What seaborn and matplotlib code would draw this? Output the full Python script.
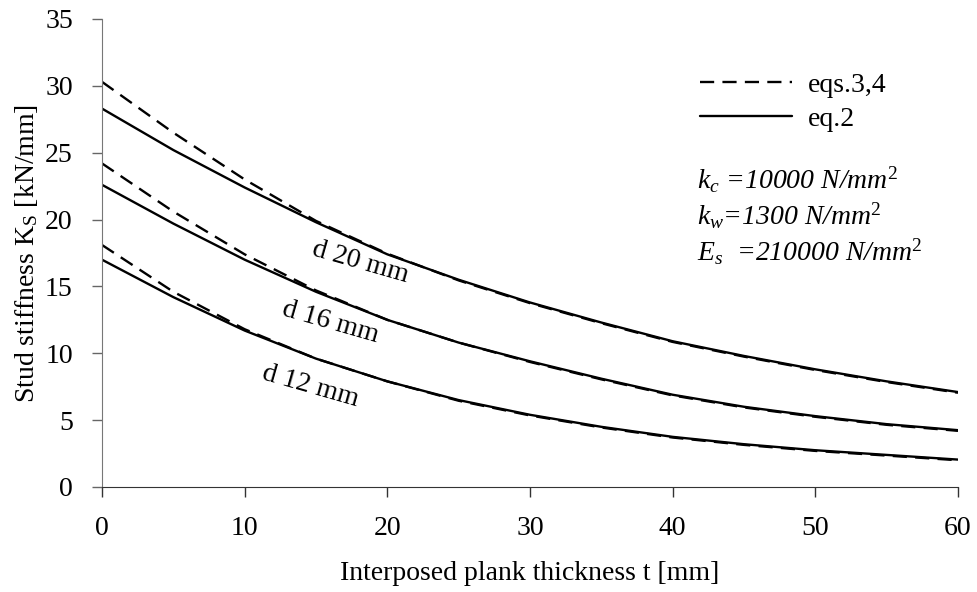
import numpy as np
import pandas as pd
import matplotlib
matplotlib.use("Agg")
import matplotlib.pyplot as plt
from matplotlib.lines import Line2D
import seaborn as sns

# plank thickness t [mm]
thickness = [0, 5, 10, 15, 20, 25, 30, 35, 40, 45, 50, 55, 60]

# stud stiffness Ks [kN/mm]
d20_eq2 = [28.3, 25.2, 22.4, 19.8, 17.4, 15.5, 13.8, 12.3, 10.9, 9.8, 8.8, 7.9, 7.1]
d20_eq34 = [30.3, 26.5, 23.0, 19.9, 17.45, 15.45, 13.75, 12.25, 10.85, 9.75, 8.75, 7.85, 7.05]
d16_eq2 = [22.6, 19.7, 17.0, 14.6, 12.5, 10.8, 9.4, 8.1, 6.9, 6.0, 5.3, 4.7, 4.25]
d16_eq34 = [24.2, 20.6, 17.4, 14.7, 12.5, 10.8, 9.35, 8.05, 6.85, 5.95, 5.25, 4.65, 4.2]
d12_eq2 = [17.0, 14.2, 11.7, 9.6, 7.9, 6.5, 5.4, 4.5, 3.75, 3.2, 2.75, 2.4, 2.05]
d12_eq34 = [18.1, 14.6, 11.8, 9.6, 7.9, 6.45, 5.35, 4.45, 3.7, 3.15, 2.7, 2.35, 2.0]

series = {
    ("d 20 mm", "eq.2"): d20_eq2,
    ("d 20 mm", "eqs.3,4"): d20_eq34,
    ("d 16 mm", "eq.2"): d16_eq2,
    ("d 16 mm", "eqs.3,4"): d16_eq34,
    ("d 12 mm", "eq.2"): d12_eq2,
    ("d 12 mm", "eqs.3,4"): d12_eq34,
}

rows = []
for (dia, method), vals in series.items():
    for t, k in zip(thickness, vals):
        rows.append({"t": t, "K": k, "d": dia, "method": method, "run": dia + method})
df = pd.DataFrame(rows)

sns.set_style("ticks")
plt.rcParams["font.family"] = ["Liberation Serif", "DejaVu Serif"]
plt.rcParams["mathtext.fontset"] = "custom"
plt.rcParams["mathtext.rm"] = "Liberation Serif"
plt.rcParams["mathtext.it"] = "Liberation Serif:italic"
plt.rcParams["text.color"] = "black"
plt.rcParams["axes.labelcolor"] = "black"

FS = 20

fig = plt.figure(figsize=(9.77, 5.92), dpi=100)
ax = fig.add_axes([102 / 977, 1 - 487 / 592, 856 / 977, 468 / 592])

dash_style = (6, 3.5)
sns.lineplot(data=df, x="t", y="K", units="run", style="method",
             estimator=None, sort=False, color="black", linewidth=1.7,
             dashes={"eq.2": "", "eqs.3,4": dash_style}, legend=False, ax=ax)

ax.set_xlim(0, 60)
ax.set_ylim(0, 35)
ax.set_xticks(np.arange(0, 61, 10))
ax.set_yticks(np.arange(0, 36, 5))
ax.tick_params(axis="both", labelsize=FS, length=7, width=1, direction="out",
               pad=14, labelcolor="black")
ax.tick_params(axis="x", colors="#333333", labelcolor="black")
ax.tick_params(axis="y", colors="#666666", labelcolor="black")
ax.spines["top"].set_visible(False)
ax.spines["right"].set_visible(False)
ax.spines["left"].set_color("#777777")
ax.spines["bottom"].set_color("#333333")

ax.set_xlabel("Interposed plank thickness t [mm]", fontsize=FS, labelpad=14)
ax.set_ylabel(r"Stud stiffness K$_\mathrm{S}$ [kN/mm]", fontsize=FS, labelpad=4)

# curve labels
ax.text(18.1, 16.8, "d 20 mm", rotation=-16, ha="center", va="center", fontsize=FS)
ax.text(16.0, 12.3, "d 16 mm", rotation=-16, ha="center", va="center", fontsize=FS)
ax.text(14.6, 7.5, "d 12 mm", rotation=-16, ha="center", va="center", fontsize=FS)

handles = [Line2D([], [], color="black", lw=1.7, ls=(0, dash_style)),
           Line2D([], [], color="black", lw=1.7)]
ax.legend(handles, ["eqs.3,4", "eq.2"], loc="center left",
          bbox_to_anchor=(700 / 977, 1 - 102 / 592), bbox_transform=fig.transFigure,
          frameon=False, handlelength=3.3, handletextpad=0.6, borderpad=0,
          borderaxespad=0, labelspacing=0.3, fontsize=FS)

params = [r"$k_{c}$ =10000 N/mm$^{\mathit{2}}$",
          r"$k_{w}$=1300 N/mm$^{\mathit{2}}$",
          r"$E_{s}$  =210000 N/mm$^{\mathit{2}}$"]
for i, txt in enumerate(params):
    fig.text(697 / 977, 1 - (180 + 36 * i) / 592, txt, style="italic",
             fontsize=FS, va="center", ha="left")

fig.savefig("out.png", dpi=100)
plt.close(fig)
